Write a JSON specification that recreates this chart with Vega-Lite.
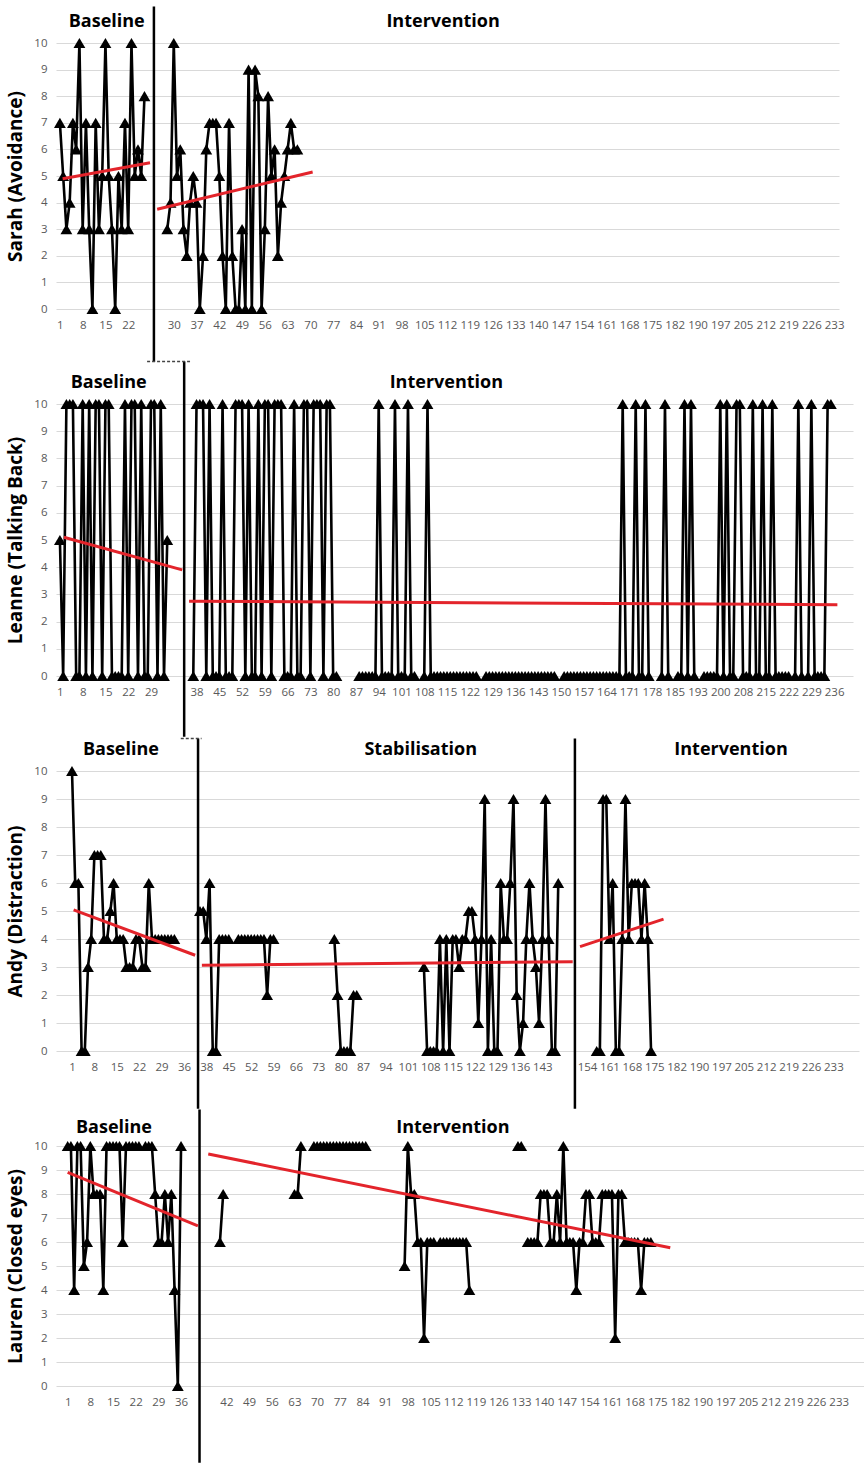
{
  "$schema": "https://vega.github.io/schema/vega-lite/v6.json",
  "background": "white",
  "padding": {"left": 6, "top": 5, "right": 0, "bottom": 0},
  "bounds": "flush",
  "spacing": 95,
  "resolve": {"scale": {"x": "independent", "y": "independent"}},
  "config": {
    "view": {"stroke": null},
    "font": "Open Sans",
    "axis": {
      "domain": false, "ticks": false,
      "labelColor": "#595959", "labelFont": "Open Sans", "labelFontSize": 11.5,
      "gridColor": "#d9d9d9", "gridWidth": 1.2,
      "titleFont": "Open Sans", "titleFontSize": 19, "titleFontWeight": "bold", "titleColor": "#000000"
    },
    "axisX": {"labelPadding": 10},
    "axisY": {"labelPadding": 9, "titlePadding": 8}
  },
  "datasets": {
    "phases": [
      {"p": "Sarah", "s": 29.9}, {"p": "Leanne", "s": 39.2},
      {"p": "Andy", "s": 40.4}, {"p": "Andy", "s": 158.2}, {"p": "Lauren", "s": 41.7}
    ],
    "links": [
      {"p": "Leanne", "s": 27.8, "e": 41}, {"p": "Andy", "s": 35, "e": 41.5}
    ],
    "labels": [
      {"p": "Sarah", "s": 15.4, "t": "Baseline"}, {"p": "Sarah", "s": 118.8, "t": "Intervention"},
      {"p": "Leanne", "s": 16, "t": "Baseline"}, {"p": "Leanne", "s": 119.8, "t": "Intervention"},
      {"p": "Andy", "s": 16.3, "t": "Baseline"}, {"p": "Andy", "s": 110, "t": "Stabilisation"}, {"p": "Andy", "s": 207, "t": "Intervention"},
      {"p": "Lauren", "s": 15.3, "t": "Baseline"}, {"p": "Lauren", "s": 119.9, "t": "Intervention"}
    ],
    "trends": [
      {"p": "Sarah", "ph": "B", "s": 1.85, "v": 4.9}, {"p": "Sarah", "ph": "B", "s": 28.7, "v": 5.5},
      {"p": "Sarah", "ph": "I", "s": 30.9, "v": 3.75}, {"p": "Sarah", "ph": "I", "s": 78.7, "v": 5.15},
      {"p": "Leanne", "ph": "B", "s": 2.2, "v": 5.1}, {"p": "Leanne", "ph": "B", "s": 38.6, "v": 3.9},
      {"p": "Leanne", "ph": "I", "s": 40.7, "v": 2.75}, {"p": "Leanne", "ph": "I", "s": 240, "v": 2.62},
      {"p": "Andy", "ph": "B", "s": 1.5, "v": 5.04}, {"p": "Andy", "ph": "B", "s": 39.5, "v": 3.42},
      {"p": "Andy", "ph": "S", "s": 41.6, "v": 3.06}, {"p": "Andy", "ph": "S", "s": 157.5, "v": 3.19},
      {"p": "Andy", "ph": "I", "s": 159.8, "v": 3.73}, {"p": "Andy", "ph": "I", "s": 185.9, "v": 4.71},
      {"p": "Lauren", "ph": "B", "s": 1, "v": 8.9}, {"p": "Lauren", "ph": "B", "s": 41.2, "v": 6.67},
      {"p": "Lauren", "ph": "I", "s": 44.4, "v": 9.67}, {"p": "Lauren", "ph": "I", "s": 187, "v": 5.76}
    ],
    "sarah": [
      {"s":1,"v":7,"ph":"B"},{"s":2,"v":5,"ph":"B"},{"s":3,"v":3,"ph":"B"},{"s":4,"v":4,"ph":"B"},{"s":5,"v":7,"ph":"B"},
      {"s":6,"v":6,"ph":"B"},{"s":7,"v":10,"ph":"B"},{"s":8,"v":3,"ph":"B"},{"s":9,"v":7,"ph":"B"},{"s":10,"v":3,"ph":"B"},
      {"s":11,"v":0,"ph":"B"},{"s":12,"v":7,"ph":"B"},{"s":13,"v":3,"ph":"B"},{"s":14,"v":5,"ph":"B"},{"s":15,"v":10,"ph":"B"},
      {"s":16,"v":5,"ph":"B"},{"s":17,"v":3,"ph":"B"},{"s":18,"v":0,"ph":"B"},{"s":19,"v":5,"ph":"B"},{"s":20,"v":3,"ph":"B"},
      {"s":21,"v":7,"ph":"B"},{"s":22,"v":3,"ph":"B"},{"s":23,"v":10,"ph":"B"},{"s":24,"v":5,"ph":"B"},{"s":25,"v":6,"ph":"B"},
      {"s":26,"v":5,"ph":"B"},{"s":27,"v":8,"ph":"B"},
      {"s":34,"v":3,"ph":"I"},{"s":35,"v":4,"ph":"I"},{"s":36,"v":10,"ph":"I"},{"s":37,"v":5,"ph":"I"},{"s":38,"v":6,"ph":"I"},
      {"s":39,"v":3,"ph":"I"},{"s":40,"v":2,"ph":"I"},{"s":41,"v":4,"ph":"I"},{"s":42,"v":5,"ph":"I"},{"s":43,"v":4,"ph":"I"},
      {"s":44,"v":0,"ph":"I"},{"s":45,"v":2,"ph":"I"},{"s":46,"v":6,"ph":"I"},{"s":47,"v":7,"ph":"I"},{"s":48,"v":7,"ph":"I"},
      {"s":49,"v":7,"ph":"I"},{"s":50,"v":5,"ph":"I"},{"s":51,"v":2,"ph":"I"},{"s":52,"v":0,"ph":"I"},{"s":53,"v":7,"ph":"I"},
      {"s":54,"v":2,"ph":"I"},{"s":55,"v":0,"ph":"I"},{"s":56,"v":0,"ph":"I"},{"s":57,"v":3,"ph":"I"},{"s":58,"v":0,"ph":"I"},
      {"s":59,"v":9,"ph":"I"},{"s":60,"v":0,"ph":"I"},{"s":61,"v":9,"ph":"I"},{"s":62,"v":8,"ph":"I"},{"s":63,"v":0,"ph":"I"},
      {"s":64,"v":3,"ph":"I"},{"s":65,"v":8,"ph":"I"},{"s":66,"v":5,"ph":"I"},{"s":67,"v":6,"ph":"I"},{"s":68,"v":2,"ph":"I"},
      {"s":69,"v":4,"ph":"I"},{"s":70,"v":5,"ph":"I"},{"s":71,"v":6,"ph":"I"},{"s":72,"v":7,"ph":"I"},{"s":73,"v":6,"ph":"I"},
      {"s":74,"v":6,"ph":"I"}
    ],
    "leanne": [
      {"s":1,"v":5,"ph":"B"},{"s":2,"v":0,"ph":"B"},{"s":3,"v":10,"ph":"B"},{"s":4,"v":10,"ph":"B"},{"s":5,"v":10,"ph":"B"},
      {"s":6,"v":0,"ph":"B"},{"s":7,"v":0,"ph":"B"},{"s":8,"v":10,"ph":"B"},{"s":9,"v":0,"ph":"B"},{"s":10,"v":10,"ph":"B"},
      {"s":11,"v":0,"ph":"B"},{"s":12,"v":10,"ph":"B"},{"s":13,"v":10,"ph":"B"},{"s":14,"v":0,"ph":"B"},{"s":15,"v":10,"ph":"B"},
      {"s":16,"v":10,"ph":"B"},{"s":17,"v":0,"ph":"B"},{"s":18,"v":0,"ph":"B"},{"s":19,"v":0,"ph":"B"},{"s":20,"v":0,"ph":"B"},
      {"s":21,"v":10,"ph":"B"},{"s":22,"v":0,"ph":"B"},{"s":23,"v":10,"ph":"B"},{"s":24,"v":10,"ph":"B"},{"s":25,"v":0,"ph":"B"},
      {"s":26,"v":10,"ph":"B"},{"s":27,"v":0,"ph":"B"},{"s":28,"v":0,"ph":"B"},{"s":29,"v":10,"ph":"B"},{"s":30,"v":10,"ph":"B"},
      {"s":31,"v":0,"ph":"B"},{"s":32,"v":10,"ph":"B"},{"s":33,"v":0,"ph":"B"},{"s":34,"v":5,"ph":"B"},
      {"s":42,"v":0,"ph":"I"},{"s":43,"v":10,"ph":"I"},{"s":44,"v":10,"ph":"I"},{"s":45,"v":10,"ph":"I"},{"s":46,"v":0,"ph":"I"},
      {"s":47,"v":10,"ph":"I"},{"s":48,"v":0,"ph":"I"},{"s":49,"v":0,"ph":"I"},{"s":50,"v":0,"ph":"I"},{"s":51,"v":10,"ph":"I"},
      {"s":52,"v":0,"ph":"I"},{"s":53,"v":0,"ph":"I"},{"s":54,"v":0,"ph":"I"},{"s":55,"v":10,"ph":"I"},{"s":56,"v":10,"ph":"I"},
      {"s":57,"v":10,"ph":"I"},{"s":58,"v":0,"ph":"I"},{"s":59,"v":10,"ph":"I"},{"s":60,"v":0,"ph":"I"},{"s":61,"v":0,"ph":"I"},
      {"s":62,"v":10,"ph":"I"},{"s":63,"v":0,"ph":"I"},{"s":64,"v":10,"ph":"I"},{"s":65,"v":10,"ph":"I"},{"s":66,"v":0,"ph":"I"},
      {"s":67,"v":10,"ph":"I"},{"s":68,"v":10,"ph":"I"},{"s":69,"v":10,"ph":"I"},{"s":70,"v":0,"ph":"I"},{"s":71,"v":0,"ph":"I"},
      {"s":72,"v":0,"ph":"I"},{"s":73,"v":10,"ph":"I"},{"s":74,"v":0,"ph":"I"},{"s":75,"v":0,"ph":"I"},{"s":76,"v":10,"ph":"I"},
      {"s":77,"v":10,"ph":"I"},{"s":78,"v":0,"ph":"I"},{"s":79,"v":10,"ph":"I"},{"s":80,"v":10,"ph":"I"},{"s":81,"v":10,"ph":"I"},
      {"s":82,"v":0,"ph":"I"},{"s":83,"v":10,"ph":"I"},{"s":84,"v":10,"ph":"I"},{"s":85,"v":0,"ph":"I"},{"s":86,"v":0,"ph":"I"},
      {"s":87,"v":null,"ph":"I"},
      {"s":93,"v":0,"ph":"I"},{"s":94,"v":0,"ph":"I"},{"s":95,"v":0,"ph":"I"},{"s":96,"v":0,"ph":"I"},{"s":97,"v":0,"ph":"I"},
      {"s":98,"v":0,"ph":"I"},{"s":99,"v":10,"ph":"I"},{"s":100,"v":0,"ph":"I"},{"s":101,"v":0,"ph":"I"},{"s":102,"v":0,"ph":"I"},
      {"s":103,"v":0,"ph":"I"},{"s":104,"v":10,"ph":"I"},{"s":105,"v":0,"ph":"I"},{"s":106,"v":0,"ph":"I"},{"s":107,"v":0,"ph":"I"},
      {"s":108,"v":10,"ph":"I"},{"s":109,"v":0,"ph":"I"},{"s":110,"v":0,"ph":"I"},
      {"s":111,"v":null,"ph":"I"},
      {"s":113,"v":0,"ph":"I"},{"s":114,"v":10,"ph":"I"},{"s":115,"v":0,"ph":"I"},{"s":116,"v":0,"ph":"I"},{"s":117,"v":0,"ph":"I"},
      {"s":118,"v":0,"ph":"I"},{"s":119,"v":0,"ph":"I"},{"s":120,"v":0,"ph":"I"},{"s":121,"v":0,"ph":"I"},{"s":122,"v":0,"ph":"I"},
      {"s":123,"v":0,"ph":"I"},{"s":124,"v":0,"ph":"I"},{"s":125,"v":0,"ph":"I"},{"s":126,"v":0,"ph":"I"},{"s":127,"v":0,"ph":"I"},
      {"s":128,"v":0,"ph":"I"},{"s":129,"v":0,"ph":"I"},
      {"s":130,"v":null,"ph":"I"},
      {"s":132,"v":0,"ph":"I"},{"s":133,"v":0,"ph":"I"},{"s":134,"v":0,"ph":"I"},{"s":135,"v":0,"ph":"I"},{"s":136,"v":0,"ph":"I"},
      {"s":137,"v":0,"ph":"I"},{"s":138,"v":0,"ph":"I"},{"s":139,"v":0,"ph":"I"},{"s":140,"v":0,"ph":"I"},{"s":141,"v":0,"ph":"I"},
      {"s":142,"v":0,"ph":"I"},{"s":143,"v":0,"ph":"I"},{"s":144,"v":0,"ph":"I"},{"s":145,"v":0,"ph":"I"},{"s":146,"v":0,"ph":"I"},
      {"s":147,"v":0,"ph":"I"},{"s":148,"v":0,"ph":"I"},{"s":149,"v":0,"ph":"I"},{"s":150,"v":0,"ph":"I"},{"s":151,"v":0,"ph":"I"},
      {"s":152,"v":0,"ph":"I"},{"s":153,"v":0,"ph":"I"},
      {"s":154,"v":null,"ph":"I"},
      {"s":156,"v":0,"ph":"I"},{"s":157,"v":0,"ph":"I"},{"s":158,"v":0,"ph":"I"},{"s":159,"v":0,"ph":"I"},{"s":160,"v":0,"ph":"I"},
      {"s":161,"v":0,"ph":"I"},{"s":162,"v":0,"ph":"I"},{"s":163,"v":0,"ph":"I"},{"s":164,"v":0,"ph":"I"},{"s":165,"v":0,"ph":"I"},
      {"s":166,"v":0,"ph":"I"},{"s":167,"v":0,"ph":"I"},{"s":168,"v":0,"ph":"I"},{"s":169,"v":0,"ph":"I"},{"s":170,"v":0,"ph":"I"},
      {"s":171,"v":0,"ph":"I"},{"s":172,"v":0,"ph":"I"},{"s":173,"v":0,"ph":"I"},{"s":174,"v":10,"ph":"I"},{"s":175,"v":0,"ph":"I"},
      {"s":176,"v":0,"ph":"I"},{"s":177,"v":0,"ph":"I"},{"s":178,"v":10,"ph":"I"},{"s":179,"v":0,"ph":"I"},{"s":180,"v":0,"ph":"I"},
      {"s":181,"v":10,"ph":"I"},{"s":182,"v":0,"ph":"I"},
      {"s":183,"v":null,"ph":"I"},
      {"s":186,"v":0,"ph":"I"},{"s":187,"v":10,"ph":"I"},{"s":188,"v":0,"ph":"I"},
      {"s":189,"v":null,"ph":"I"},
      {"s":191,"v":0,"ph":"I"},{"s":192,"v":0,"ph":"I"},{"s":193,"v":10,"ph":"I"},{"s":194,"v":0,"ph":"I"},{"s":195,"v":10,"ph":"I"},
      {"s":196,"v":0,"ph":"I"},
      {"s":197,"v":null,"ph":"I"},
      {"s":199,"v":0,"ph":"I"},{"s":200,"v":0,"ph":"I"},{"s":201,"v":0,"ph":"I"},{"s":202,"v":0,"ph":"I"},{"s":203,"v":0,"ph":"I"},
      {"s":204,"v":10,"ph":"I"},{"s":205,"v":0,"ph":"I"},{"s":206,"v":10,"ph":"I"},{"s":207,"v":0,"ph":"I"},{"s":208,"v":0,"ph":"I"},
      {"s":209,"v":10,"ph":"I"},{"s":210,"v":10,"ph":"I"},{"s":211,"v":0,"ph":"I"},{"s":212,"v":0,"ph":"I"},{"s":213,"v":0,"ph":"I"},
      {"s":214,"v":10,"ph":"I"},{"s":215,"v":0,"ph":"I"},{"s":216,"v":0,"ph":"I"},{"s":217,"v":10,"ph":"I"},{"s":218,"v":0,"ph":"I"},
      {"s":219,"v":0,"ph":"I"},{"s":220,"v":10,"ph":"I"},{"s":221,"v":0,"ph":"I"},{"s":222,"v":0,"ph":"I"},{"s":223,"v":0,"ph":"I"},
      {"s":224,"v":0,"ph":"I"},{"s":225,"v":0,"ph":"I"},
      {"s":226,"v":null,"ph":"I"},
      {"s":227,"v":0,"ph":"I"},{"s":228,"v":10,"ph":"I"},{"s":229,"v":0,"ph":"I"},
      {"s":230,"v":null,"ph":"I"},
      {"s":231,"v":0,"ph":"I"},{"s":232,"v":10,"ph":"I"},{"s":233,"v":0,"ph":"I"},{"s":234,"v":0,"ph":"I"},{"s":235,"v":0,"ph":"I"},
      {"s":236,"v":0,"ph":"I"},{"s":237,"v":10,"ph":"I"},{"s":238,"v":10,"ph":"I"}
    ],
    "andy": [
      {"s":1,"v":10,"ph":"B"},{"s":2,"v":6,"ph":"B"},{"s":3,"v":6,"ph":"B"},{"s":4,"v":0,"ph":"B"},{"s":5,"v":0,"ph":"B"},
      {"s":6,"v":3,"ph":"B"},{"s":7,"v":4,"ph":"B"},{"s":8,"v":7,"ph":"B"},{"s":9,"v":7,"ph":"B"},{"s":10,"v":7,"ph":"B"},
      {"s":11,"v":4,"ph":"B"},{"s":12,"v":4,"ph":"B"},{"s":13,"v":5,"ph":"B"},{"s":14,"v":6,"ph":"B"},{"s":15,"v":4,"ph":"B"},
      {"s":16,"v":4,"ph":"B"},{"s":17,"v":4,"ph":"B"},{"s":18,"v":3,"ph":"B"},{"s":19,"v":3,"ph":"B"},{"s":20,"v":3,"ph":"B"},
      {"s":21,"v":4,"ph":"B"},{"s":22,"v":4,"ph":"B"},{"s":23,"v":3,"ph":"B"},{"s":24,"v":3,"ph":"B"},{"s":25,"v":6,"ph":"B"},
      {"s":26,"v":4,"ph":"B"},{"s":27,"v":4,"ph":"B"},{"s":28,"v":4,"ph":"B"},{"s":29,"v":4,"ph":"B"},{"s":30,"v":4,"ph":"B"},
      {"s":31,"v":4,"ph":"B"},{"s":32,"v":4,"ph":"B"},{"s":33,"v":4,"ph":"B"},
      {"s":41,"v":5,"ph":"S"},{"s":42,"v":5,"ph":"S"},{"s":43,"v":4,"ph":"S"},{"s":44,"v":6,"ph":"S"},{"s":45,"v":0,"ph":"S"},
      {"s":46,"v":0,"ph":"S"},{"s":47,"v":4,"ph":"S"},{"s":48,"v":4,"ph":"S"},{"s":49,"v":4,"ph":"S"},{"s":50,"v":4,"ph":"S"},
      {"s":51,"v":null,"ph":"S"},
      {"s":53,"v":4,"ph":"S"},{"s":54,"v":4,"ph":"S"},{"s":55,"v":4,"ph":"S"},{"s":56,"v":4,"ph":"S"},{"s":57,"v":4,"ph":"S"},
      {"s":58,"v":4,"ph":"S"},{"s":59,"v":4,"ph":"S"},{"s":60,"v":4,"ph":"S"},{"s":61,"v":4,"ph":"S"},{"s":62,"v":2,"ph":"S"},
      {"s":63,"v":4,"ph":"S"},{"s":64,"v":4,"ph":"S"},
      {"s":65,"v":null,"ph":"S"},
      {"s":83,"v":4,"ph":"S"},{"s":84,"v":2,"ph":"S"},{"s":85,"v":0,"ph":"S"},{"s":86,"v":0,"ph":"S"},{"s":87,"v":0,"ph":"S"},
      {"s":88,"v":0,"ph":"S"},{"s":89,"v":2,"ph":"S"},{"s":90,"v":2,"ph":"S"},
      {"s":91,"v":null,"ph":"S"},
      {"s":111,"v":3,"ph":"S"},{"s":112,"v":0,"ph":"S"},{"s":113,"v":0,"ph":"S"},{"s":114,"v":0,"ph":"S"},{"s":115,"v":0,"ph":"S"},
      {"s":116,"v":4,"ph":"S"},{"s":117,"v":0,"ph":"S"},{"s":118,"v":4,"ph":"S"},{"s":119,"v":0,"ph":"S"},{"s":120,"v":4,"ph":"S"},
      {"s":121,"v":4,"ph":"S"},{"s":122,"v":3,"ph":"S"},{"s":123,"v":4,"ph":"S"},{"s":124,"v":4,"ph":"S"},{"s":125,"v":5,"ph":"S"},
      {"s":126,"v":5,"ph":"S"},{"s":127,"v":4,"ph":"S"},{"s":128,"v":1,"ph":"S"},{"s":129,"v":4,"ph":"S"},{"s":130,"v":9,"ph":"S"},
      {"s":131,"v":0,"ph":"S"},{"s":132,"v":4,"ph":"S"},{"s":133,"v":0,"ph":"S"},{"s":134,"v":0,"ph":"S"},{"s":135,"v":6,"ph":"S"},
      {"s":136,"v":4,"ph":"S"},{"s":137,"v":4,"ph":"S"},{"s":138,"v":6,"ph":"S"},{"s":139,"v":9,"ph":"S"},{"s":140,"v":2,"ph":"S"},
      {"s":141,"v":0,"ph":"S"},{"s":142,"v":1,"ph":"S"},{"s":143,"v":4,"ph":"S"},{"s":144,"v":6,"ph":"S"},{"s":145,"v":4,"ph":"S"},
      {"s":146,"v":3,"ph":"S"},{"s":147,"v":1,"ph":"S"},{"s":148,"v":4,"ph":"S"},{"s":149,"v":9,"ph":"S"},{"s":150,"v":4,"ph":"S"},
      {"s":151,"v":0,"ph":"S"},{"s":152,"v":0,"ph":"S"},{"s":153,"v":6,"ph":"S"},
      {"s":165,"v":0,"ph":"I"},{"s":166,"v":0,"ph":"I"},{"s":167,"v":9,"ph":"I"},{"s":168,"v":9,"ph":"I"},{"s":169,"v":4,"ph":"I"},
      {"s":170,"v":6,"ph":"I"},{"s":171,"v":0,"ph":"I"},{"s":172,"v":0,"ph":"I"},{"s":173,"v":4,"ph":"I"},{"s":174,"v":9,"ph":"I"},
      {"s":175,"v":4,"ph":"I"},{"s":176,"v":6,"ph":"I"},{"s":177,"v":6,"ph":"I"},{"s":178,"v":6,"ph":"I"},{"s":179,"v":4,"ph":"I"},
      {"s":180,"v":6,"ph":"I"},{"s":181,"v":4,"ph":"I"},{"s":182,"v":0,"ph":"I"}
    ],
    "lauren": [
      {"s":1,"v":10,"ph":"B"},{"s":2,"v":10,"ph":"B"},{"s":3,"v":4,"ph":"B"},{"s":4,"v":10,"ph":"B"},{"s":5,"v":10,"ph":"B"},
      {"s":6,"v":5,"ph":"B"},{"s":7,"v":6,"ph":"B"},{"s":8,"v":10,"ph":"B"},{"s":9,"v":8,"ph":"B"},{"s":10,"v":8,"ph":"B"},
      {"s":11,"v":8,"ph":"B"},{"s":12,"v":4,"ph":"B"},{"s":13,"v":10,"ph":"B"},{"s":14,"v":10,"ph":"B"},{"s":15,"v":10,"ph":"B"},
      {"s":16,"v":10,"ph":"B"},{"s":17,"v":10,"ph":"B"},{"s":18,"v":6,"ph":"B"},{"s":19,"v":10,"ph":"B"},{"s":20,"v":10,"ph":"B"},
      {"s":21,"v":10,"ph":"B"},{"s":22,"v":10,"ph":"B"},{"s":23,"v":10,"ph":"B"},{"s":24,"v":null,"ph":"B"},{"s":25,"v":10,"ph":"B"},
      {"s":26,"v":10,"ph":"B"},{"s":27,"v":10,"ph":"B"},{"s":28,"v":8,"ph":"B"},{"s":29,"v":6,"ph":"B"},{"s":30,"v":6,"ph":"B"},
      {"s":31,"v":8,"ph":"B"},{"s":32,"v":6,"ph":"B"},{"s":33,"v":8,"ph":"B"},{"s":34,"v":4,"ph":"B"},{"s":35,"v":0,"ph":"B"},
      {"s":36,"v":10,"ph":"B"},
      {"s":48,"v":6,"ph":"I"},{"s":49,"v":8,"ph":"I"},
      {"s":50,"v":null,"ph":"I"},
      {"s":71,"v":8,"ph":"I"},{"s":72,"v":8,"ph":"I"},{"s":73,"v":10,"ph":"I"},
      {"s":74,"v":null,"ph":"I"},
      {"s":77,"v":10,"ph":"I"},{"s":78,"v":10,"ph":"I"},{"s":79,"v":10,"ph":"I"},{"s":80,"v":10,"ph":"I"},{"s":81,"v":10,"ph":"I"},
      {"s":82,"v":10,"ph":"I"},{"s":83,"v":10,"ph":"I"},{"s":84,"v":10,"ph":"I"},{"s":85,"v":10,"ph":"I"},{"s":86,"v":10,"ph":"I"},
      {"s":87,"v":10,"ph":"I"},{"s":88,"v":10,"ph":"I"},{"s":89,"v":10,"ph":"I"},{"s":90,"v":10,"ph":"I"},{"s":91,"v":10,"ph":"I"},
      {"s":92,"v":10,"ph":"I"},{"s":93,"v":10,"ph":"I"},
      {"s":94,"v":null,"ph":"I"},
      {"s":105,"v":5,"ph":"I"},{"s":106,"v":10,"ph":"I"},{"s":107,"v":8,"ph":"I"},{"s":108,"v":8,"ph":"I"},{"s":109,"v":6,"ph":"I"},
      {"s":110,"v":6,"ph":"I"},{"s":111,"v":2,"ph":"I"},{"s":112,"v":6,"ph":"I"},{"s":113,"v":6,"ph":"I"},{"s":114,"v":6,"ph":"I"},
      {"s":115,"v":null,"ph":"I"},
      {"s":116,"v":6,"ph":"I"},{"s":117,"v":6,"ph":"I"},{"s":118,"v":6,"ph":"I"},{"s":119,"v":6,"ph":"I"},{"s":120,"v":6,"ph":"I"},
      {"s":121,"v":6,"ph":"I"},{"s":122,"v":6,"ph":"I"},{"s":123,"v":6,"ph":"I"},{"s":124,"v":6,"ph":"I"},{"s":125,"v":4,"ph":"I"},
      {"s":126,"v":null,"ph":"I"},
      {"s":140,"v":10,"ph":"I"},{"s":141,"v":10,"ph":"I"},
      {"s":142,"v":null,"ph":"I"},
      {"s":143,"v":6,"ph":"I"},{"s":144,"v":6,"ph":"I"},{"s":145,"v":6,"ph":"I"},{"s":146,"v":6,"ph":"I"},{"s":147,"v":8,"ph":"I"},
      {"s":148,"v":8,"ph":"I"},{"s":149,"v":8,"ph":"I"},{"s":150,"v":6,"ph":"I"},{"s":151,"v":6,"ph":"I"},{"s":152,"v":8,"ph":"I"},
      {"s":153,"v":6,"ph":"I"},{"s":154,"v":10,"ph":"I"},{"s":155,"v":6,"ph":"I"},{"s":156,"v":6,"ph":"I"},{"s":157,"v":6,"ph":"I"},
      {"s":158,"v":4,"ph":"I"},{"s":159,"v":6,"ph":"I"},{"s":160,"v":6,"ph":"I"},{"s":161,"v":8,"ph":"I"},{"s":162,"v":8,"ph":"I"},
      {"s":163,"v":6,"ph":"I"},{"s":164,"v":6,"ph":"I"},{"s":165,"v":6,"ph":"I"},{"s":166,"v":8,"ph":"I"},{"s":167,"v":8,"ph":"I"},
      {"s":168,"v":8,"ph":"I"},{"s":169,"v":8,"ph":"I"},{"s":170,"v":2,"ph":"I"},{"s":171,"v":8,"ph":"I"},{"s":172,"v":8,"ph":"I"},
      {"s":173,"v":6,"ph":"I"},{"s":174,"v":6,"ph":"I"},{"s":175,"v":6,"ph":"I"},{"s":176,"v":6,"ph":"I"},{"s":177,"v":6,"ph":"I"},
      {"s":178,"v":4,"ph":"I"},{"s":179,"v":6,"ph":"I"},{"s":180,"v":6,"ph":"I"},{"s":181,"v":6,"ph":"I"}
    ]
  },
  "vconcat": [
    {
      "width": 783,
      "height": 266,
      "layer": [
        {
          "data": {"name": "sarah"},
          "mark": {"type": "line", "color": "#000000", "strokeWidth": 2.6, "invalid": "break-paths-show-domains"},
          "encoding": {
            "x": {
              "field": "s", "type": "quantitative", "title": null,
              "scale": {"domain": [-0.2, 240.5], "nice": false, "zero": false},
              "axis": {
                "grid": false, "labelOverlap": false, "labelFlush": false, "labelBound": false, "tickCount": 100,
                "values": [1,8,15,22,29,36,43,50,57,64,71,78,85,92,99,106,113,120,127,134,141,148,155,162,169,176,183,190,197,204,211,218,225,232,239],
                "labelExpr": "['1','8','15','22','','30','37','42','49','56','63','70','77','84','91','98','105','112','119','126','133','140','147','154','161','168','175','182','190','197','205','212','219','226','233'][round((datum.value - 1) / 7)]"
              }
            },
            "y": {
              "field": "v", "type": "quantitative", "title": "Sarah (Avoidance)",
              "scale": {"domain": [0, 10], "nice": false, "zero": false},
              "axis": {"grid": true, "gridColor": "#d9d9d9", "labelOverlap": false, "labelFlush": false, "tickCount": 50, "format": "d", "values": [0,1,2,3,4,5,6,7,8,9,10]}
            },
            "detail": {"field": "ph"}
          }
        },
        {
          "data": {"name": "phases"},
          "transform": [{"filter": "datum.p == 'Sarah'"}],
          "mark": {"type": "rule", "color": "#000000", "strokeWidth": 2.5},
          "encoding": {
            "x": {"field": "s", "type": "quantitative", "title": null},
            "y": {"datum": 11.37},
            "y2": {"datum": -1.98}
          }
        },
        {
          "data": {"name": "sarah"},
          "mark": {"type": "point", "shape": "triangle-up", "filled": true, "color": "#000000", "opacity": 1, "size": 140},
          "encoding": {
            "x": {"field": "s", "type": "quantitative", "title": null},
            "y": {"field": "v", "type": "quantitative", "title": "Sarah (Avoidance)"}
          }
        },
        {
          "data": {"name": "trends"},
          "transform": [{"filter": "datum.p == 'Sarah'"}],
          "mark": {"type": "line", "color": "#e3242b", "strokeWidth": 3},
          "encoding": {
            "x": {"field": "s", "type": "quantitative", "title": null},
            "y": {"field": "v", "type": "quantitative", "title": "Sarah (Avoidance)"},
            "detail": {"field": "ph"}
          }
        },
        {
          "data": {"name": "labels"},
          "transform": [{"filter": "datum.p == 'Sarah'"}],
          "mark": {"type": "text", "font": "Open Sans", "fontWeight": "bold", "fontSize": 18, "color": "#000000"},
          "encoding": {
            "x": {"field": "s", "type": "quantitative", "title": null},
            "y": {"datum": 10.78},
            "text": {"field": "t"}
          }
        }
      ]
    },
    {
      "width": 797,
      "height": 272,
      "layer": [
        {
          "data": {"name": "leanne"},
          "mark": {"type": "line", "color": "#000000", "strokeWidth": 2.6, "invalid": "break-paths-show-domains"},
          "encoding": {
            "x": {
              "field": "s", "type": "quantitative", "title": null,
              "scale": {"domain": [-0.2, 244.8], "nice": false, "zero": false},
              "axis": {
                "grid": false, "labelOverlap": false, "labelFlush": false, "labelBound": false, "tickCount": 100,
                "values": [1,8,15,22,29,36,43,50,57,64,71,78,85,92,99,106,113,120,127,134,141,148,155,162,169,176,183,190,197,204,211,218,225,232,239],
                "labelExpr": "['1','8','15','22','29','','38','45','52','59','66','73','80','87','94','101','108','115','122','129','136','143','150','157','164','171','178','185','193','200','208','215','222','229','236'][round((datum.value - 1) / 7)]"
              }
            },
            "y": {
              "field": "v", "type": "quantitative", "title": "Leanne (Talking Back)",
              "scale": {"domain": [0, 10], "nice": false, "zero": false},
              "axis": {"grid": true, "gridColor": "#d9d9d9", "labelOverlap": false, "labelFlush": false, "tickCount": 50, "format": "d", "values": [0,1,2,3,4,5,6,7,8,9,10]}
            },
            "detail": {"field": "ph"}
          }
        },
        {
          "data": {"name": "phases"},
          "transform": [{"filter": "datum.p == 'Leanne'"}],
          "mark": {"type": "rule", "color": "#000000", "strokeWidth": 2.5},
          "encoding": {
            "x": {"field": "s", "type": "quantitative", "title": null},
            "y": {"datum": 11.56},
            "y2": {"datum": -2.23}
          }
        },
        {
          "data": {"name": "links"},
          "transform": [{"filter": "datum.p == 'Leanne'"}],
          "mark": {"type": "rule", "color": "#444444", "strokeWidth": 1.5, "strokeDash": [3, 2]},
          "encoding": {
            "x": {"field": "s", "type": "quantitative", "title": null},
            "x2": {"field": "e"},
            "y": {"datum": 11.56}
          }
        },
        {
          "data": {"name": "leanne"},
          "mark": {"type": "point", "shape": "triangle-up", "filled": true, "color": "#000000", "opacity": 1, "size": 140},
          "encoding": {
            "x": {"field": "s", "type": "quantitative", "title": null},
            "y": {"field": "v", "type": "quantitative", "title": "Leanne (Talking Back)"}
          }
        },
        {
          "data": {"name": "trends"},
          "transform": [{"filter": "datum.p == 'Leanne'"}],
          "mark": {"type": "line", "color": "#e3242b", "strokeWidth": 3},
          "encoding": {
            "x": {"field": "s", "type": "quantitative", "title": null},
            "y": {"field": "v", "type": "quantitative", "title": "Leanne (Talking Back)"},
            "detail": {"field": "ph"}
          }
        },
        {
          "data": {"name": "labels"},
          "transform": [{"filter": "datum.p == 'Leanne'"}],
          "mark": {"type": "text", "font": "Open Sans", "fontWeight": "bold", "fontSize": 18, "color": "#000000"},
          "encoding": {
            "x": {"field": "s", "type": "quantitative", "title": null},
            "y": {"datum": 10.78},
            "text": {"field": "t"}
          }
        }
      ]
    },
    {
      "width": 803,
      "height": 280,
      "layer": [
        {
          "data": {"name": "andy"},
          "mark": {"type": "line", "color": "#000000", "strokeWidth": 2.6, "invalid": "break-paths-show-domains"},
          "encoding": {
            "x": {
              "field": "s", "type": "quantitative", "title": null,
              "scale": {"domain": [-4, 247], "nice": false, "zero": false},
              "axis": {
                "grid": false, "labelOverlap": false, "labelFlush": false, "labelBound": false, "tickCount": 100,
                "values": [1,8,15,22,29,36,43,50,57,64,71,78,85,92,99,106,113,120,127,134,141,148,155,162,169,176,183,190,197,204,211,218,225,232,239],
                "labelExpr": "['1','8','15','22','29','36','38','45','52','59','66','73','80','87','94','101','108','115','122','129','136','143','','154','161','168','175','182','190','197','205','212','219','226','233'][round((datum.value - 1) / 7)]"
              }
            },
            "y": {
              "field": "v", "type": "quantitative", "title": "Andy (Distraction)",
              "scale": {"domain": [0, 10], "nice": false, "zero": false},
              "axis": {"grid": true, "gridColor": "#d9d9d9", "labelOverlap": false, "labelFlush": false, "tickCount": 50, "format": "d", "values": [0,1,2,3,4,5,6,7,8,9,10]}
            },
            "detail": {"field": "ph"}
          }
        },
        {
          "data": {"name": "phases"},
          "transform": [{"filter": "datum.p == 'Andy'"}],
          "mark": {"type": "rule", "color": "#000000", "strokeWidth": 2.5},
          "encoding": {
            "x": {"field": "s", "type": "quantitative", "title": null},
            "y": {"datum": 11.16},
            "y2": {"datum": -2.06}
          }
        },
        {
          "data": {"name": "links"},
          "transform": [{"filter": "datum.p == 'Andy'"}],
          "mark": {"type": "rule", "color": "#444444", "strokeWidth": 1.5, "strokeDash": [3, 2]},
          "encoding": {
            "x": {"field": "s", "type": "quantitative", "title": null},
            "x2": {"field": "e"},
            "y": {"datum": 11.16}
          }
        },
        {
          "data": {"name": "andy"},
          "mark": {"type": "point", "shape": "triangle-up", "filled": true, "color": "#000000", "opacity": 1, "size": 140},
          "encoding": {
            "x": {"field": "s", "type": "quantitative", "title": null},
            "y": {"field": "v", "type": "quantitative", "title": "Andy (Distraction)"}
          }
        },
        {
          "data": {"name": "trends"},
          "transform": [{"filter": "datum.p == 'Andy'"}],
          "mark": {"type": "line", "color": "#e3242b", "strokeWidth": 3},
          "encoding": {
            "x": {"field": "s", "type": "quantitative", "title": null},
            "y": {"field": "v", "type": "quantitative", "title": "Andy (Distraction)"},
            "detail": {"field": "ph"}
          }
        },
        {
          "data": {"name": "labels"},
          "transform": [{"filter": "datum.p == 'Andy'"}],
          "mark": {"type": "text", "font": "Open Sans", "fontWeight": "bold", "fontSize": 18, "color": "#000000"},
          "encoding": {
            "x": {"field": "s", "type": "quantitative", "title": null},
            "y": {"datum": 10.75},
            "text": {"field": "t"}
          }
        }
      ]
    },
    {
      "width": 808,
      "height": 240,
      "layer": [
        {
          "data": {"name": "lauren"},
          "mark": {"type": "line", "color": "#000000", "strokeWidth": 2.6, "invalid": "break-paths-show-domains"},
          "encoding": {
            "x": {
              "field": "s", "type": "quantitative", "title": null,
              "scale": {"domain": [-2.6, 246.8], "nice": false, "zero": false},
              "axis": {
                "grid": false, "labelOverlap": false, "labelFlush": false, "labelBound": false, "tickCount": 100,
                "values": [1,8,15,22,29,36,43,50,57,64,71,78,85,92,99,106,113,120,127,134,141,148,155,162,169,176,183,190,197,204,211,218,225,232,239],
                "labelExpr": "['1','8','15','22','29','36','','42','49','56','63','70','77','84','91','98','105','112','119','126','133','140','147','154','161','168','175','182','190','197','205','212','219','226','233'][round((datum.value - 1) / 7)]"
              }
            },
            "y": {
              "field": "v", "type": "quantitative", "title": "Lauren (Closed eyes)",
              "scale": {"domain": [0, 10], "nice": false, "zero": false},
              "axis": {"grid": true, "gridColor": "#d9d9d9", "labelOverlap": false, "labelFlush": false, "tickCount": 50, "format": "d", "values": [0,1,2,3,4,5,6,7,8,9,10]}
            },
            "detail": {"field": "ph"}
          }
        },
        {
          "data": {"name": "phases"},
          "transform": [{"filter": "datum.p == 'Lauren'"}],
          "mark": {"type": "rule", "color": "#000000", "strokeWidth": 2.5},
          "encoding": {
            "x": {"field": "s", "type": "quantitative", "title": null},
            "y": {"datum": 11.52},
            "y2": {"datum": -3.2}
          }
        },
        {
          "data": {"name": "lauren"},
          "mark": {"type": "point", "shape": "triangle-up", "filled": true, "color": "#000000", "opacity": 1, "size": 140},
          "encoding": {
            "x": {"field": "s", "type": "quantitative", "title": null},
            "y": {"field": "v", "type": "quantitative", "title": "Lauren (Closed eyes)"}
          }
        },
        {
          "data": {"name": "trends"},
          "transform": [{"filter": "datum.p == 'Lauren'"}],
          "mark": {"type": "line", "color": "#e3242b", "strokeWidth": 3},
          "encoding": {
            "x": {"field": "s", "type": "quantitative", "title": null},
            "y": {"field": "v", "type": "quantitative", "title": "Lauren (Closed eyes)"},
            "detail": {"field": "ph"}
          }
        },
        {
          "data": {"name": "labels"},
          "transform": [{"filter": "datum.p == 'Lauren'"}],
          "mark": {"type": "text", "font": "Open Sans", "fontWeight": "bold", "fontSize": 18, "color": "#000000"},
          "encoding": {
            "x": {"field": "s", "type": "quantitative", "title": null},
            "y": {"datum": 10.75},
            "text": {"field": "t"}
          }
        }
      ]
    }
  ]
}
